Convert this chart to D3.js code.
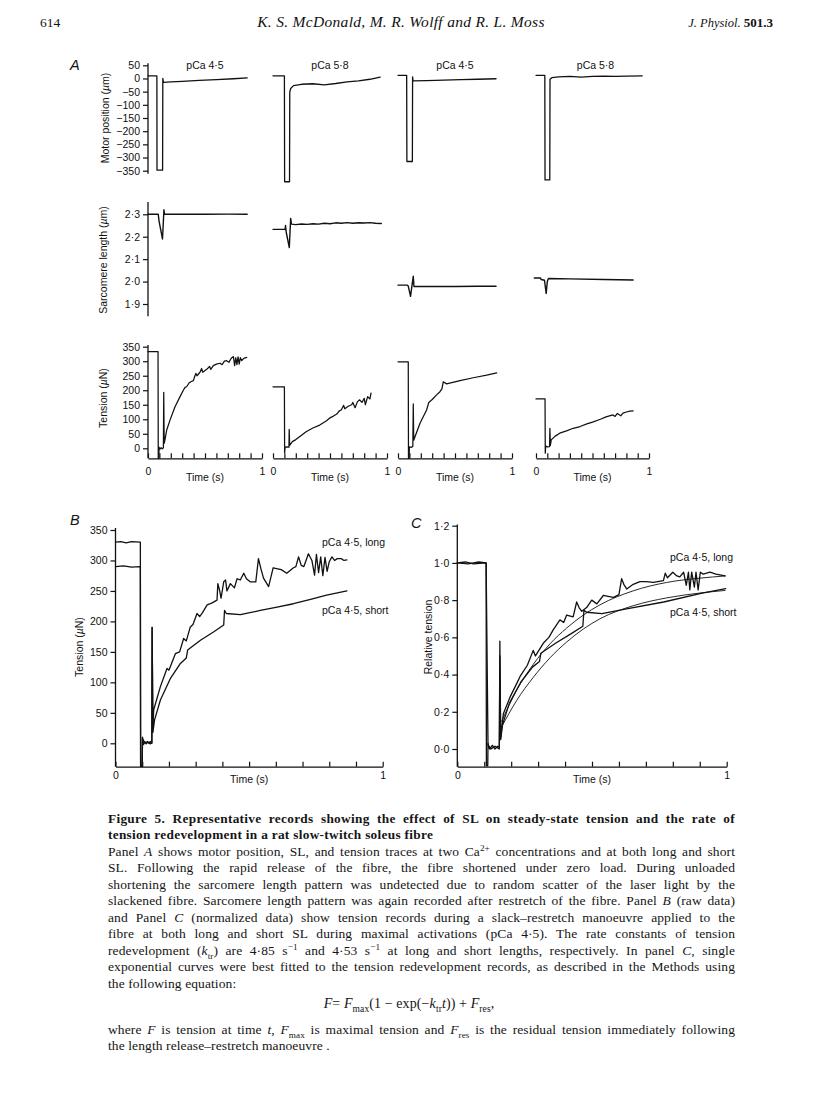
<!DOCTYPE html>
<html><head><meta charset="utf-8">
<script src="https://cdn.jsdelivr.net/npm/d3@7"></script>
<style>
body{margin:0;background:#fff;}
#page{position:relative;width:816px;height:1110px;overflow:hidden;background:#fff;}
#page svg{position:absolute;left:0;top:0;}
.cap{position:absolute;left:108px;width:627px;height:17px;line-height:17px;font-family:"Liberation Serif","Times New Roman",serif;font-size:13.5px;letter-spacing:0.1px;color:#151515;white-space:nowrap;}
.cap.j{text-align:justify;text-align-last:justify;}
.cap.b{font-weight:bold;font-size:13.3px;letter-spacing:0.3px;}
.cap sup,.cap sub{font-size:68%;line-height:0;}
</style></head><body><div id="page"></div><script>
// ---------------- DATA ----------------
const panelTitles = ["pCa 4·5", "pCa 5·8", "pCa 4·5", "pCa 5·8"];
const motorTicks = [50, 0, -50, -100, -150, -200, -250, -300, -350];
const slTicks = [2.3, 2.2, 2.1, 2.0, 1.9];
const tensionTicks = [0, 50, 100, 150, 200, 250, 300, 350];
const relTicks = [0, 0.2, 0.4, 0.6, 0.8, 1.0, 1.2];
const timeTicks = [0, 0.1, 0.2, 0.3, 0.4, 0.5, 0.6, 0.7, 0.8, 0.9, 1];

// Panel A, motor position (µm) vs time (s)
const motorA1 = [[0,10],[0.078,10],[0.079,-348],[0.128,-348],[0.13,0],[0.136,-15],[0.2,-13],[0.3,-11],[0.45,-7],[0.6,-4],[0.75,-1],[0.87,2]];
const motorA2 = [[0,10],[0.1,10],[0.102,-392],[0.145,-392],[0.147,-52],[0.155,-38],[0.18,-27],[0.25,-22],[0.35,-20],[0.45,-24],[0.55,-19],[0.65,-13],[0.75,-9],[0.85,-3],[0.94,5]];
const motorA3 = [[0,12],[0.076,12],[0.078,-315],[0.126,-315],[0.128,6],[0.132,-9],[0.25,-8],[0.4,-6],[0.55,-4],[0.7,-3],[0.86,-1]];
const motorA4 = [[0,12],[0.078,12],[0.08,-385],[0.122,-385],[0.124,-3],[0.14,3],[0.2,6],[0.3,8],[0.4,5],[0.5,8],[0.6,9],[0.7,8],[0.8,9],[0.94,10]];

// Panel A, sarcomere length (µm)
const slA1 = [[0,2.30],[0.09,2.30],[0.097,2.27],[0.127,2.19],[0.14,2.32],[0.145,2.30],[0.3,2.301],[0.5,2.30],[0.7,2.301],[0.87,2.30]];
const slA2 = [[0,2.233],[0.1,2.233],[0.106,2.232],[0.11,2.25],[0.116,2.22],[0.143,2.152],[0.155,2.282],[0.162,2.256],[0.2,2.254],[0.25,2.257],[0.3,2.255],[0.35,2.258],[0.4,2.256],[0.45,2.26],[0.5,2.258],[0.55,2.262],[0.6,2.26],[0.65,2.263],[0.7,2.26],[0.75,2.262],[0.8,2.261],[0.85,2.263],[0.9,2.26],[0.95,2.259]];
const slA3 = [[0,1.984],[0.082,1.984],[0.09,1.98],[0.11,1.934],[0.134,2.024],[0.14,1.978],[0.3,1.978],[0.5,1.978],[0.7,1.979],[0.86,1.979]];
const slA4 = [[-0.015,2.016],[0.04,2.016],[0.045,2.009],[0.075,2.006],[0.09,1.947],[0.1,2.0],[0.11,2.014],[0.3,2.012],[0.6,2.009],[0.86,2.007]];

// Panel A, tension (µN)
const tenA1 = [[0,333],[0.088,333],[0.09,-35],[0.095,-35],[0.097,4],[0.105,-3],[0.115,2],[0.125,-2],[0.135,2],[0.138,193],[0.142,17],[0.149,30],[0.164,63],[0.193,97],[0.237,143],[0.281,178],[0.31,200],[0.325,210],[0.339,212],[0.36,225],[0.38,230],[0.398,233],[0.41,248],[0.42,258],[0.43,250],[0.456,262],[0.47,275],[0.48,262],[0.515,272],[0.54,282],[0.55,272],[0.573,285],[0.6,290],[0.632,293],[0.65,288],[0.67,300],[0.69,302],[0.71,296],[0.73,310],[0.749,316],[0.76,285],[0.77,312],[0.78,288],[0.79,315],[0.8,290],[0.81,312],[0.822,302],[0.84,310],[0.866,313]];
const tenA2 = [[0,212],[0.1,212],[0.102,-15],[0.106,3],[0.12,5],[0.14,4],[0.142,65],[0.146,10],[0.17,23],[0.2,30],[0.25,45],[0.29,57],[0.35,70],[0.41,80],[0.47,95],[0.5,105],[0.53,111],[0.56,118],[0.58,128],[0.6,133],[0.62,148],[0.63,136],[0.66,145],[0.69,150],[0.7,158],[0.72,140],[0.74,160],[0.76,167],[0.78,158],[0.8,172],[0.81,150],[0.83,178],[0.85,170],[0.86,190]];
const tenA3 = [[0,298],[0.09,298],[0.092,-35],[0.097,-35],[0.1,5],[0.115,3],[0.13,6],[0.134,153],[0.138,28],[0.149,40],[0.193,86],[0.251,132],[0.27,158],[0.3,168],[0.339,184],[0.368,195],[0.385,205],[0.397,229],[0.427,222],[0.544,233],[0.66,243],[0.778,252],[0.866,260]];
const tenA4 = [[0,170],[0.08,170],[0.082,-17],[0.086,8],[0.1,5],[0.12,6],[0.123,69],[0.127,10],[0.135,29],[0.17,42],[0.21,52],[0.27,60],[0.33,69],[0.39,75],[0.45,84],[0.5,90],[0.57,100],[0.62,108],[0.68,115],[0.7,110],[0.72,120],[0.75,112],[0.77,121],[0.8,125],[0.83,128],[0.86,129]];

// Panel B, tension (µN), pCa 4·5 long and short
const tenBLong = [[0,330],[0.02,331],[0.04,329],[0.06,331],[0.093,330],[0.094,-38],[0.1,-38],[0.101,10],[0.105,-2],[0.11,3],[0.115,-1],[0.12,2],[0.125,0],[0.13,3],[0.136,0],[0.137,190],[0.14,25],[0.143,55],[0.168,93],[0.193,123],[0.2,120],[0.224,147],[0.24,150],[0.255,172],[0.265,168],[0.28,191],[0.29,195],[0.305,213],[0.315,208],[0.325,214],[0.343,227],[0.36,230],[0.38,235],[0.383,262],[0.39,250],[0.395,238],[0.405,265],[0.412,268],[0.417,250],[0.43,262],[0.445,255],[0.455,270],[0.467,268],[0.48,279],[0.49,270],[0.504,265],[0.525,265],[0.535,303],[0.545,285],[0.554,271],[0.573,257],[0.59,288],[0.62,285],[0.641,279],[0.666,288],[0.675,290],[0.685,306],[0.695,292],[0.705,290],[0.722,311],[0.735,300],[0.745,276],[0.752,310],[0.76,280],[0.768,306],[0.776,275],[0.784,305],[0.792,282],[0.8,298],[0.81,306],[0.82,300],[0.83,303],[0.845,303],[0.855,300],[0.866,301]];
const tenBShort = [[0,290],[0.03,291],[0.06,289],[0.093,290],[0.094,-38],[0.1,-38],[0.101,8],[0.11,0],[0.12,3],[0.13,-1],[0.136,1],[0.137,190],[0.14,18],[0.146,38],[0.168,71],[0.205,106],[0.243,131],[0.265,140],[0.27,153],[0.318,169],[0.368,183],[0.405,194],[0.408,218],[0.415,213],[0.467,211],[0.542,218],[0.6,223],[0.666,229],[0.73,236],[0.79,243],[0.866,250]];

// Panel C, relative tension, records and single-exponential fits
const relCLong = [[0,1.0],[0.03,1.005],[0.06,0.995],[0.107,1.0],[0.108,-0.09],[0.113,-0.09],[0.114,0.03],[0.12,0.0],[0.13,0.02],[0.14,0.0],[0.15,0.015],[0.156,0.01],[0.158,0.58],[0.161,0.06],[0.171,0.19],[0.196,0.28],[0.22,0.35],[0.233,0.39],[0.26,0.45],[0.282,0.53],[0.29,0.5],[0.319,0.568],[0.34,0.6],[0.356,0.64],[0.381,0.694],[0.395,0.68],[0.406,0.72],[0.43,0.71],[0.443,0.79],[0.452,0.76],[0.462,0.74],[0.48,0.76],[0.499,0.80],[0.518,0.78],[0.542,0.825],[0.56,0.82],[0.58,0.815],[0.6,0.83],[0.61,0.915],[0.618,0.885],[0.629,0.86],[0.653,0.885],[0.678,0.9],[0.7,0.9],[0.728,0.895],[0.765,0.905],[0.772,0.945],[0.78,0.92],[0.8,0.95],[0.815,0.93],[0.826,0.925],[0.84,0.95],[0.85,0.88],[0.858,0.95],[0.863,0.855],[0.87,0.95],[0.88,0.87],[0.886,0.95],[0.894,0.855],[0.902,0.95],[0.913,0.94],[0.938,0.95],[0.96,0.94],[0.994,0.93]];
const relCShort = [[0,1.0],[0.04,0.995],[0.08,1.005],[0.107,1.0],[0.114,0.02],[0.125,0.0],[0.14,0.015],[0.156,0.0],[0.158,0.5],[0.161,0.05],[0.168,0.131],[0.193,0.245],[0.236,0.36],[0.279,0.44],[0.305,0.47],[0.31,0.515],[0.366,0.57],[0.423,0.62],[0.466,0.66],[0.47,0.745],[0.48,0.735],[0.537,0.728],[0.623,0.752],[0.766,0.79],[0.909,0.838],[0.996,0.862]];
const fitCLong = [[0.165,0.15],[0.22,0.315],[0.282,0.455],[0.344,0.565],[0.406,0.65],[0.468,0.72],[0.53,0.775],[0.653,0.85],[0.777,0.895],[0.9,0.918],[0.994,0.93]];
const fitCShort = [[0.165,0.12],[0.22,0.26],[0.282,0.385],[0.344,0.49],[0.406,0.575],[0.468,0.645],[0.53,0.70],[0.653,0.77],[0.777,0.812],[0.9,0.838],[0.994,0.852]];

const captionTitle = ["Figure 5. Representative records showing the effect of SL on steady-state tension and the rate of",
  "tension redevelopment in a rat slow-twitch soleus fibre"];
const captionBody = [
  "Panel <i>A</i> shows motor position, SL, and tension traces at two Ca<sup>2+</sup> concentrations and at both long and short",
  "SL. Following the rapid release of the fibre, the fibre shortened under zero load. During unloaded",
  "shortening the sarcomere length pattern was undetected due to random scatter of the laser light by the",
  "slackened fibre. Sarcomere length pattern was again recorded after restretch of the fibre. Panel <i>B</i> (raw data)",
  "and Panel <i>C</i> (normalized data) show tension records during a slack–restretch manoeuvre applied to the",
  "fibre at both long and short SL during maximal activations (pCa 4·5). The rate constants of tension",
  "redevelopment (<i>k</i><sub>tr</sub>) are 4·85 s<sup>−1</sup> and 4·53 s<sup>−1</sup> at long and short lengths, respectively. In panel <i>C</i>, single",
  "exponential curves were best fitted to the tension redevelopment records, as described in the Methods using",
  "the following equation:"];
const captionEquation = "<i>F</i>= <i>F</i><sub>max</sub>(1 − exp(−<i>k</i><sub>tr</sub><i>t</i>)) + <i>F</i><sub>res</sub>,";
const captionTail = [
  "where <i>F</i> is tension at time <i>t</i>, <i>F</i><sub>max</sub> is maximal tension and <i>F</i><sub>res</sub> is the residual tension immediately following",
  "the length release–restretch manoeuvre ."];

// ---------------- DRAW ----------------
const W = 816, H = 1110;
const SANS = '"Liberation Sans", Arial, Helvetica, sans-serif';
const SERIF = '"Liberation Serif", "Times New Roman", serif';
const ink = "#111";
const page = d3.select("#page");
const svg = page.append("svg").attr("width", W).attr("height", H);
svg.append("rect").attr("width", W).attr("height", H).attr("fill", "#fff");

// header
const hdr = svg.append("g").attr("font-family", SERIF).attr("fill", ink);
hdr.append("text").attr("x", 40).attr("y", 27).attr("font-size", 13.5).text("614");
hdr.append("text").attr("x", 401).attr("y", 27).attr("font-size", 15.5).attr("font-style", "italic").attr("text-anchor", "middle").attr("letter-spacing", 0.3).text("K. S. McDonald, M. R. Wolff and R. L. Moss");
const jp = hdr.append("text").attr("x", 773).attr("y", 27).attr("text-anchor", "end");
jp.append("tspan").attr("font-style", "italic").attr("font-size", 12.5).text("J. Physiol. ");
jp.append("tspan").attr("font-weight", "bold").attr("font-size", 13).text("501.3");

const fmtDot = d => d3.format(".1f")(d).replace(".", "·");
const fmtMinus = d => d < 0 ? "−" + Math.abs(d) : String(d);

function trace(g, data, x, y, w = 1.3, curve = d3.curveLinear) {
  g.append("path").datum(data)
    .attr("d", d3.line().x(d => x(d[0])).y(d => y(d[1])).curve(curve))
    .attr("fill", "none").attr("stroke", ink).attr("stroke-width", w)
    .attr("stroke-linejoin", "round").attr("stroke-linecap", "round");
}
function yAxis(g, scale, x, ticks, fmt, top, bottom) {
  const ax = g.append("g").attr("transform", `translate(${x},0)`)
    .call(d3.axisLeft(scale).tickValues(ticks).tickFormat(fmt).tickSize(5).tickPadding(3));
  ax.select(".domain").remove();
  ax.selectAll("line").attr("stroke", ink).attr("stroke-width", 1.2);
  ax.selectAll("text").attr("font-family", SANS).attr("font-size", 10.5).attr("fill", ink);
  g.append("line").attr("x1", x).attr("x2", x).attr("y1", top).attr("y2", bottom)
    .attr("stroke", ink).attr("stroke-width", 1.3);
}
function xAxis(g, scale, y, pad, titleDy) {
  const ax = g.append("g").attr("transform", `translate(0,${y})`)
    .call(d3.axisBottom(scale).tickValues(timeTicks)
      .tickFormat(d => (d === 0 || d === 1) ? String(d) : "")
      .tickSize(-5).tickSizeOuter(0).tickPadding(pad));
  ax.select(".domain").attr("stroke", ink).attr("stroke-width", 1.3);
  ax.selectAll("line").attr("stroke", ink).attr("stroke-width", 1.2);
  ax.selectAll("text").attr("font-family", SANS).attr("font-size", 10.5).attr("fill", ink);
  const r = scale.range();
  g.append("text").attr("x", (r[0] + r[1]) / 2).attr("y", y + titleDy)
    .attr("text-anchor", "middle").attr("font-family", SANS).attr("font-size", 10.5)
    .attr("fill", ink).text("Time (s)");
}
function yTitle(g, x, y, parts) {
  const t = g.append("text").attr("transform", `translate(${x},${y}) rotate(-90)`)
    .attr("text-anchor", "middle").attr("font-family", SANS).attr("font-size", 10.5).attr("fill", ink);
  parts.forEach(p => t.append("tspan").attr("font-style", p[1] ? "italic" : null).text(p[0]));
}
function letter(g, x, y, s) {
  g.append("text").attr("x", x).attr("y", y).attr("font-family", SANS).attr("font-style", "italic")
    .attr("font-size", 14.5).attr("fill", ink).text(s);
}

// ---- Panel A ----
const gA = svg.append("g");
const colX = [[148, 262], [273, 387], [398, 512], [536, 649]];
const xA = colX.map(r => d3.scaleLinear().domain([0, 1]).range(r));
const yMotor = d3.scaleLinear().domain([50, -350]).range([65.3, 170.7]);
const ySL = d3.scaleLinear().domain([2.3, 1.9]).range([214.3, 304]);
const yTenA = d3.scaleLinear().domain([350, 0]).range([346.7, 448.3]);
const xAxisYA = yTenA(-34.5);

letter(gA, 70, 70, "A");
panelTitles.forEach((t, i) => {
  const r = colX[i];
  gA.append("text").attr("x", (r[0] + r[1]) / 2 + (i === 3 ? 3 : 0)).attr("y", 69)
    .attr("text-anchor", "middle").attr("font-family", SANS).attr("font-size", 10.5).attr("fill", ink).text(t);
});

yAxis(gA, yMotor, 148, motorTicks, fmtMinus, yMotor(58), yMotor(-362));
yAxis(gA, ySL, 148, slTicks, fmtDot, ySL(2.355), ySL(1.845));
yAxis(gA, yTenA, 148, tensionTicks, d => String(d), yTenA(356), xAxisYA);
yTitle(gA, 108.5, 118, [["Motor position ("], ["µ", true], ["m)"]]);
yTitle(gA, 106.7, 260, [["Sarcomere length ("], ["µ", true], ["m)"]]);
yTitle(gA, 106.7, 398, [["Tension ("], ["µ", true], ["N)"]]);

[motorA1, motorA2, motorA3, motorA4].forEach((d, i) => trace(gA, d, xA[i], yMotor));
[slA1, slA2, slA3, slA4].forEach((d, i) => trace(gA, d, xA[i], ySL, 1.4));
[tenA1, tenA2, tenA3, tenA4].forEach((d, i) => trace(gA, d, xA[i], yTenA, 1.25));
xA.forEach(x => xAxis(gA, x, xAxisYA, 9.5, 22.5));

// ---- Panel B ----
const gB = svg.append("g");
const xB = d3.scaleLinear().domain([0, 1]).range([115.5, 382.7]);
const yB = d3.scaleLinear().domain([350, 0]).range([530, 743.3]);
const axisYB = 766.7;
letter(gB, 70, 525, "B");
yAxis(gB, yB, 115.5, tensionTicks, d => String(d), 528, axisYB);
xAxis(gB, xB, axisYB, 4.5, 16);
yTitle(gB, 82.7, 647, [["Tension ("], ["µ", true], ["N)"]]);
trace(gB, tenBShort, xB, yB);
trace(gB, tenBLong, xB, yB);
gB.append("text").attr("x", 322).attr("y", 545.5).attr("font-family", SANS).attr("font-size", 10.5).attr("fill", ink).text("pCa 4·5, long");
gB.append("text").attr("x", 322).attr("y", 614).attr("font-family", SANS).attr("font-size", 10.5).attr("fill", ink).text("pCa 4·5, short");

// ---- Panel C ----
const gC = svg.append("g");
const xC = d3.scaleLinear().domain([0, 1]).range([457.3, 726.7]);
const yC = d3.scaleLinear().domain([0, 1.2]).range([749, 525.7]);
letter(gC, 411, 528, "C");
yAxis(gC, yC, 457.3, relTicks, fmtDot, 524.5, axisYB);
xAxis(gC, xC, axisYB, 4.5, 16);
yTitle(gC, 431.7, 637, [["Relative tension"]]);
trace(gC, relCShort, xC, yC);
trace(gC, relCLong, xC, yC);
trace(gC, fitCLong, xC, yC, 0.9, d3.curveMonotoneX);
trace(gC, fitCShort, xC, yC, 0.9, d3.curveMonotoneX);
gC.append("text").attr("x", 670).attr("y", 560.5).attr("font-family", SANS).attr("font-size", 10.5).attr("fill", ink).text("pCa 4·5, long");
gC.append("text").attr("x", 670).attr("y", 615.5).attr("font-family", SANS).attr("font-size", 10.5).attr("fill", ink).text("pCa 4·5, short");

// ---- Caption ----
const lineTops = [809.5, 826, 842.5, 859, 875.5, 892, 908.5, 925, 941.5, 958, 974.5];
captionTitle.forEach((s, i) => {
  page.append("div").attr("class", "cap b" + (i === 0 ? " j" : "")).style("top", lineTops[i] + "px").html(s);
});
captionBody.forEach((s, i) => {
  page.append("div").attr("class", "cap" + (i < captionBody.length - 1 ? " j" : ""))
    .style("top", lineTops[i + 2] + "px").html(s);
});
page.append("div").attr("class", "cap").style("left", "0px").style("width", "818px")
  .style("text-align", "center").style("font-size", "14px").style("top", "994.5px").html(captionEquation);
captionTail.forEach((s, i) => {
  page.append("div").attr("class", "cap" + (i === 0 ? " j" : ""))
    .style("top", (1020.5 + i * 16.5) + "px").html(s);
});
</script></body></html>
